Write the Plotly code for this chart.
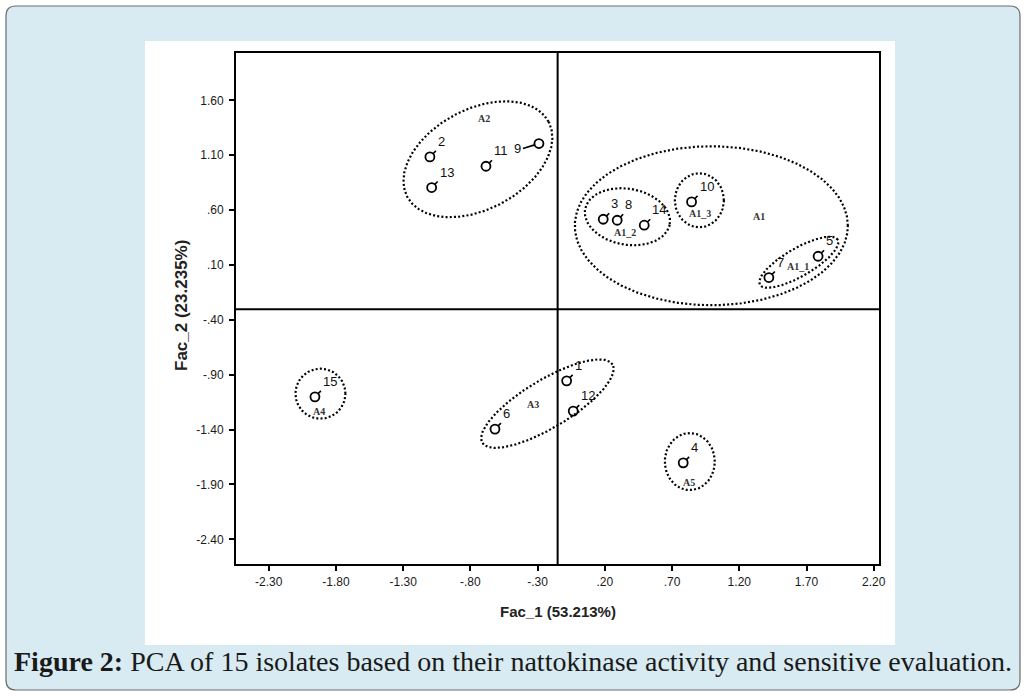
import numpy as np
import plotly.graph_objects as go

# ---------------- data ----------------
isolate_ids = ["1", "2", "3", "4", "5", "6", "7", "8", "9", "10", "11", "12", "13", "14", "15"]
fac1 = [-0.084, -1.101, 0.188, 0.783, 1.786, -0.617, 1.420, 0.292, -0.290, 0.845, -0.684, -0.035, -1.088, 0.493, -1.956]
fac2 = [-0.956, 1.084, 0.516, -1.703, 0.179, -1.396, -0.015, 0.507, 1.206, 0.674, 0.999, -1.232, 0.805, 0.462, -1.102]

x_ticks = [-2.30, -1.80, -1.30, -0.80, -0.30, 0.20, 0.70, 1.20, 1.70, 2.20]
x_ticklabels = ["-2.30", "-1.80", "-1.30", "-.80", "-.30", ".20", ".70", "1.20", "1.70", "2.20"]
y_ticks = [1.60, 1.10, 0.60, 0.10, -0.40, -0.90, -1.40, -1.90, -2.40]
y_ticklabels = ["1.60", "1.10", ".60", ".10", "-.40", "-.90", "-1.40", "-1.90", "-2.40"]

group_names = ["A2", "A1", "A1_2", "A1_3", "A1_1", "A4", "A3", "A5"]
group_label_x = [-0.697, 1.345, 0.349, 0.907, 1.638, -1.926, -0.337, 0.827]
group_label_y = [1.433, 0.537, 0.391, 0.568, 0.082, -1.232, -1.169, -1.885]

ref_line_x = -0.151
ref_line_y = -0.303

# ---------------- layout geometry ----------------
W, H = 1026, 696
ML, MR, MT, MB = 236, 147, 53, 132
XR = [-2.543, 2.239]
YR = [-2.625, 2.031]
PW, PH = W - ML - MR, H - MT - MB
SX = PW / (XR[1] - XR[0])
SY = PH / (YR[1] - YR[0])


def px2pap_x(px):
    return (px - ML) / PW


def px2pap_y(py):
    return (H - MB - py) / PH


# ellipses: centre (data), semi-axes (px), rotation (deg)
ellipses = [
    (-0.744, 1.063, 80, 50, 28),
    (0.992, 0.457, 136.5, 79.5, 0),
    (0.368, 0.539, 43, 28, -10),
    (0.903, 0.689, 24.5, 27, 0),
    (1.643, 0.125, 45, 14, 30),
    (-1.915, -1.073, 25, 25, 0),
    (-0.227, -1.164, 76, 24, 31),
    (0.832, -1.692, 25, 28.5, 0),
]

fig = go.Figure()

t = np.linspace(0, 2 * np.pi, 360)
for cx, cy, a, b, ang in ellipses:
    th = np.radians(ang)
    dx = a * np.cos(t) * np.cos(th) - b * np.sin(t) * np.sin(th)
    dy = a * np.cos(t) * np.sin(th) + b * np.sin(t) * np.cos(th)
    fig.add_trace(go.Scatter(x=cx + dx / SX, y=cy + dy / SY, mode="lines",
                             line=dict(color="black", width=2.2, dash="2px,2.2px"),
                             hoverinfo="skip", showlegend=False))

fig.add_trace(go.Scatter(x=fac1, y=fac2, mode="markers",
                         marker=dict(symbol="circle-open", size=9, color="black",
                                     line=dict(width=1.8, color="black")),
                         showlegend=False))

num_font = dict(family="Liberation Sans", size=13, color="#111")
annotations = []
for lab, xv, yv in zip(isolate_ids, fac1, fac2):
    if lab == "9":
        annotations.append(dict(x=xv, y=yv, text=lab, showarrow=True, arrowhead=0,
                                arrowwidth=1.6, arrowcolor="black", standoff=4.5,
                                ax=-16, ay=5, xanchor="right", yanchor="middle",
                                font=num_font))
    else:
        annotations.append(dict(x=xv, y=yv, text=lab, showarrow=True, arrowhead=0,
                                arrowwidth=1.6, arrowcolor="black", standoff=4.5,
                                ax=6, ay=-6, xanchor="left", yanchor="bottom",
                                font=num_font))

for name, gx, gy in zip(group_names, group_label_x, group_label_y):
    annotations.append(dict(x=gx, y=gy, text="<b>" + name + "</b>", showarrow=False,
                            font=dict(family="Liberation Serif", size=10, color="#333")))

# axis titles
annotations.append(dict(xref="paper", yref="paper", x=0.5, y=px2pap_y(611),
                        xanchor="center", yanchor="middle",
                        text="<b>Fac_1 (53.213%)</b>", showarrow=False,
                        font=dict(family="Liberation Sans", size=15, color="#222")))
annotations.append(dict(xref="paper", yref="paper", x=px2pap_x(181), y=px2pap_y(306),
                        xanchor="center", yanchor="middle",
                        text="<b>Fac_2 (23.235%)</b>", showarrow=False, textangle=-90,
                        font=dict(family="Liberation Sans", size=17, color="#222")))
# caption
annotations.append(dict(xref="paper", yref="paper", x=px2pap_x(12), y=px2pap_y(661),
                        xanchor="left", yanchor="middle",
                        text="<b>Figure 2:</b> PCA of 15 isolates based on their nattokinase activity and sensitive evaluation.",
                        showarrow=False,
                        font=dict(family="Liberation Serif", size=28, color="#1a1a1a")))

# background panel with rounded corners
x0, x1, y0, y1, r = 6, 1020, 6, 690, 10


def P(px, py):
    return f"{px2pap_x(px)},{px2pap_y(py)}"


panel_path = (f"M {P(x0 + r, y0)} L {P(x1 - r, y0)} Q {P(x1, y0)} {P(x1, y0 + r)} "
              f"L {P(x1, y1 - r)} Q {P(x1, y1)} {P(x1 - r, y1)} L {P(x0 + r, y1)} "
              f"Q {P(x0, y1)} {P(x0, y1 - r)} L {P(x0, y0 + r)} Q {P(x0, y0)} {P(x0 + r, y0)} Z")

shapes = [
    dict(type="path", xref="paper", yref="paper", path=panel_path,
         fillcolor="#d8ebf2", line=dict(color="#6b6b6b", width=1.2), layer="below"),
    dict(type="rect", xref="paper", yref="paper",
         x0=px2pap_x(145), x1=px2pap_x(895), y0=px2pap_y(645), y1=px2pap_y(41),
         fillcolor="white", line=dict(width=0), layer="below"),
    dict(type="line", xref="x", yref="paper", x0=ref_line_x, x1=ref_line_x, y0=0, y1=1,
         line=dict(color="black", width=2)),
    dict(type="line", xref="paper", yref="y", x0=0, x1=1, y0=ref_line_y, y1=ref_line_y,
         line=dict(color="black", width=2)),
]

axis_common = dict(showgrid=False, zeroline=False, showline=True, linecolor="black",
                   linewidth=2, mirror=True, ticks="outside", ticklen=5, tickwidth=1.6,
                   tickcolor="black",
                   tickfont=dict(family="Liberation Sans", size=12, color="#1a1a1a"))

fig.update_layout(
    width=W, height=H,
    margin=dict(l=ML, r=MR, t=MT, b=MB, pad=0),
    paper_bgcolor="white", plot_bgcolor="white",
    xaxis=dict(range=XR, tickvals=x_ticks, ticktext=x_ticklabels, ticklabelstandoff=1,
               **axis_common),
    yaxis=dict(range=YR, tickvals=y_ticks, ticktext=y_ticklabels, ticklabelstandoff=3,
               **axis_common),
    shapes=shapes, annotations=annotations, showlegend=False,
)

fig.write_html("out.html", config={"displayModeBar": False},
               post_script="document.body.style.margin='0px';document.body.style.overflow='hidden';")
